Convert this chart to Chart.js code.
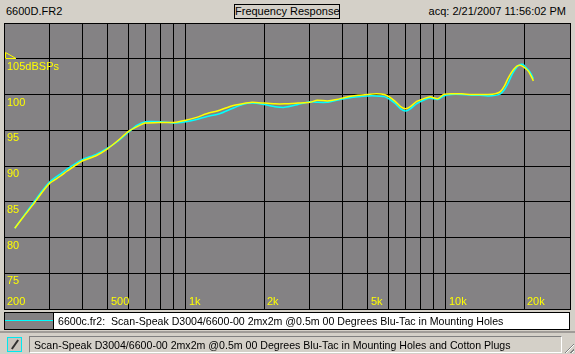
<!DOCTYPE html>
<html lang="en">

<head>
    <meta charset="UTF-8">
    <title>6600D.FR2 Frequency Response</title>
    <script src="https://cdn.jsdelivr.net/npm/chart.js"></script>
    <style>
        body {
            margin: 0;
            width: 575px;
            height: 354px;
            overflow: hidden;
            background: #d4d0c8;
            font-family: "Liberation Sans", Arial, sans-serif;
            font-size: 11px;
            color: #000;
            position: relative;
        }

        .abs { position: absolute; white-space: nowrap; }
        #title { left: 234px; top: 4px; width: 104px; height: 13px; border: 1px solid #000; text-align: center; line-height: 13px; }
        #chart { position: absolute; left: 0; top: 0; }
        #legend { left: 4px; top: 312px; width: 564px; height: 16px; border: 1px solid #000; background: #fff; font-size: 10.6px; }
        #legend .swatch { position: absolute; left: 0; top: 0; width: 48px; height: 16px; background: #848284; border-right: 1px solid #000; }
        #legend .swatch i { position: absolute; left: 0; right: 0; top: 7px; height: 1px; background: #00ffff; }
        #legend span { position: absolute; left: 53px; top: 1px; line-height: 14px; }
        #frame { left: 0; top: 331px; width: 575px; height: 2px; background: #a09c98; }
        #icon { left: 7px; top: 337px; width: 13px; height: 13px; border: 1px solid #00e8f0; background: #c8c4bc; }
        #icon i { position: absolute; left: 6px; top: 1px; width: 2px; height: 11px; background: #303030; transform: rotate(35deg); }
        #status { left: 29px; top: 336px; width: 531px; height: 15px; border-top: 1px solid #808080; border-left: 1px solid #808080; border-bottom: 1px solid #fff; border-right: 1px solid #fff; font-size: 10.6px; }
        #status span { position: absolute; left: 4px; top: 1px; line-height: 14px; }
        #grip { right: 1px; bottom: 1px; width: 12px; height: 12px; background: repeating-linear-gradient(135deg, transparent 0 2px, #808080 2px 3px, #fff 3px 4px); clip-path: polygon(100% 0, 100% 100%, 0 100%); }
    </style>
</head>

<body>
    <div class="abs" style="left:6px; top:5px;">6600D.FR2</div>
    <div class="abs" id="title">Frequency Response</div>
    <div class="abs" style="right:9px; top:5px;">acq: 2/21/2007 11:56:02 PM</div>

    <canvas id="chart" width="575" height="354"></canvas>

    <div class="abs" id="legend">
        <div class="swatch"><i></i></div>
        <span>6600c.fr2:&nbsp; Scan-Speak D3004/6600-00 2mx2m @0.5m 00 Degrees Blu-Tac in Mounting Holes</span>
    </div>
    <div class="abs" id="frame"></div>
    <div class="abs" id="icon"><i></i></div>
    <div class="abs" id="status"><span>Scan-Speak D3004/6600-00 2mx2m @0.5m 00 Degrees Blu-Tac in Mounting Holes and Cotton Plugs</span></div>
    <div class="abs" id="grip"></div>

    <script>
        // frequencies (Hz)
        const freqHz = [220, 240, 260, 280, 300, 330, 350, 400, 450, 500, 550, 600, 650, 700, 800, 900,
            1000, 1100, 1200, 1350, 1500, 1650, 1800, 2000, 2200, 2400, 2700, 3000, 3200, 3500, 3800,
            4200, 4600, 5000, 5400, 5800, 6100, 6400, 6700, 7000, 7300, 7700, 8200, 8700, 9300, 9800,
            10500, 11500, 12500, 13500, 14500, 15500, 16200, 16800, 17300, 17800, 18300, 18800, 19300,
            19800, 20300, 20800, 21300, 21700];

        // yellow trace (6600D, cotton plugs)
        const splD = [81.3, 83.1, 84.7, 86.3, 87.6, 88.6, 89.3, 90.7, 91.4, 92.4, 93.6, 94.8, 95.5, 96.0, 96.1, 96.1,
            96.4, 96.8, 97.3, 97.8, 98.4, 98.7, 98.9, 98.8, 98.7, 98.7, 98.8, 98.9, 99.2, 99.1, 99.3,
            99.7, 99.9, 100.0, 100.1, 100.0, 99.6, 99.0, 98.3, 98.0, 98.3, 99.0, 99.4, 99.7, 99.4, 100.0,
            100.1, 100.1, 100.0, 100.0, 100.0, 100.1, 100.4, 101.2, 102.2, 103.0, 103.6, 104.0, 104.1,
            103.9, 103.6, 103.2, 102.5, 101.9];

        // cyan trace (6600c.fr2)
        const splC = [81.3, 83.2, 84.9, 86.5, 87.8, 88.9, 89.6, 90.9, 91.6, 92.5, 93.5, 94.7, 95.7, 96.2, 96.2, 96.0,
            96.2, 96.5, 96.9, 97.3, 98.0, 98.6, 98.8, 98.6, 98.3, 98.2, 98.6, 99.0, 98.9, 98.9, 99.2,
            99.5, 99.7, 99.8, 99.8, 99.7, 99.3, 98.7, 98.0, 97.7, 98.0, 98.7, 99.2, 99.5, 99.3, 99.8,
            100.0, 100.0, 99.9, 99.9, 99.8, 99.9, 100.1, 100.7, 101.5, 102.5, 103.3, 103.9, 104.2,
            104.2, 103.8, 103.4, 102.8, 102.2];

        const gridFreqs = [300, 400, 500, 600, 700, 800, 900, 1000, 2000, 3000, 4000, 5000, 6000, 7000, 8000, 9000, 10000, 20000];
        const xTickVals = [200, 500, 1000, 2000, 5000, 10000, 20000];
        const xTickText = ['200', '500', '1k', '2k', '5k', '10k', '20k'];
        const yTickVals = [105, 100, 95, 90, 85, 80, 75];
        const yTickText = ['105dBSPs', '100', '95', '90', '85', '80', '75'];

        const toPts = (ys) => freqHz.map((f, i) => ({ x: f, y: ys[i] }));

        // plot background, frame, labels inside the plot
        const plotDeco = {
            id: 'plotDeco',
            beforeDraw(chart) {
                const { ctx, chartArea: a } = chart;
                ctx.save();
                ctx.fillStyle = '#848284';
                ctx.fillRect(a.left, a.top, a.right - a.left, a.bottom - a.top);
                ctx.restore();
            },
            afterDraw(chart) {
                const { ctx, chartArea: a, scales: { x, y } } = chart;
                ctx.save();
                ctx.strokeStyle = '#000';
                ctx.lineWidth = 1;
                ctx.strokeRect(a.left + 0.5, a.top + 0.5, a.right - a.left, a.bottom - a.top);

                ctx.fillStyle = '#ffff00';
                ctx.font = '11px "Liberation Sans", Arial, sans-serif';
                ctx.textBaseline = 'top';
                yTickVals.forEach((v, i) => {
                    ctx.fillText(yTickText[i], a.left + 3, Math.round(y.getPixelForValue(v)) + 2);
                });
                ctx.textBaseline = 'alphabetic';
                xTickVals.forEach((v, i) => {
                    ctx.fillText(xTickText[i], Math.round(x.getPixelForValue(v)) + 3, a.bottom - 4);
                });

                // reference level marker
                const ry = Math.round(y.getPixelForValue(105)) - 0.5;
                ctx.strokeStyle = '#ffff00';
                ctx.beginPath();
                ctx.moveTo(a.left + 1.5, ry - 6);
                ctx.lineTo(a.left + 12, ry);
                ctx.lineTo(a.left + 1.5, ry);
                ctx.closePath();
                ctx.stroke();
                ctx.restore();
            }
        };

        new Chart(document.getElementById('chart'), {
            type: 'line',
            data: {
                datasets: [{
                    label: '6600D',
                    data: toPts(splD),
                    borderColor: '#ffff00',
                    borderWidth: 1.5,
                    pointRadius: 0,
                    tension: 0.2
                }, {
                    label: '6600c.fr2',
                    data: toPts(splC),
                    borderColor: '#00ffff',
                    borderWidth: 1.5,
                    pointRadius: 0,
                    tension: 0.2
                }]
            },
            options: {
                responsive: false,
                animation: false,
                events: [],
                layout: { padding: { left: 4, top: 23, right: 5, bottom: 45 } },
                plugins: { legend: { display: false }, tooltip: { enabled: false } },
                scales: {
                    x: {
                        type: 'logarithmic',
                        min: 200,
                        max: 30000,
                        afterBuildTicks: (s) => { s.ticks = gridFreqs.map(v => ({ value: v })); },
                        grid: { color: '#000', lineWidth: 1, drawTicks: false },
                        border: { display: false },
                        ticks: { display: false }
                    },
                    y: {
                        min: 70,
                        max: 110,
                        ticks: { display: false, stepSize: 5 },
                        grid: { color: '#000', lineWidth: 1, drawTicks: false },
                        border: { display: false }
                    }
                }
            },
            plugins: [plotDeco]
        });
    </script>
</body>

</html>
